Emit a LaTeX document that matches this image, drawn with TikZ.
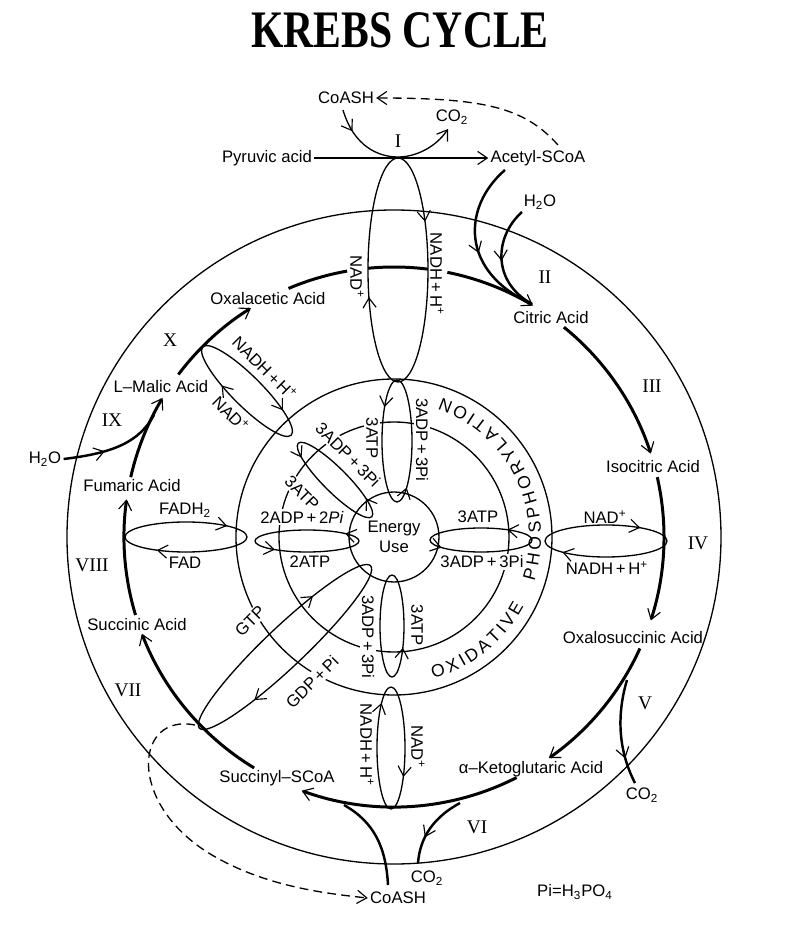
\documentclass[tikz,border=0pt]{standalone}
\usepackage{fontspec}
\setmainfont{Liberation Sans}
\newfontfamily\romfont{Liberation Serif}
\usetikzlibrary{arrows.meta, decorations.markings, decorations.text}

\begin{document}
\begin{tikzpicture}[
    x=0.02cm, y=0.02cm, line width=0.75pt,
    >={Straight Barb[length=5.5pt, width=7.5pt, line width=0.65pt]},
    lbl/.style    ={font=\fontsize{9.5}{11}\selectfont, inner sep=1pt},
    gaplbl/.style ={lbl, fill=white},
    roman/.style  ={font=\romfont\fontsize{11}{12}\selectfont},
    cyc/.style    ={line width=1.7pt},
    feed/.style   ={line width=1.4pt},
    midtip/.style ={postaction={decorate, decoration={markings,
                       mark=at position #1 with {\arrow{>}}}}},
    fw/.style 2 args={postaction={decorate, decoration={markings,
                       mark=at position #1 with {\arrow{>}},
                       mark=at position #2 with {\arrow{>}}}}},
    bw/.style 2 args={postaction={decorate, decoration={markings,
                       mark=at position #1 with {\arrowreversed{>}},
                       mark=at position #2 with {\arrowreversed{>}}}}},
    phos/.style   ={decorate, decoration={text along path, text align={fit to path},
                       text={|\fontsize{10}{12}\selectfont|#1}}}
  ]
  \useasboundingbox (-394,-393) rectangle (391,537);
  \node[font=\romfont\bfseries\fontsize{30}{32}\selectfont] (title) at (6,507)
       {\scalebox{0.79}[1]{KREBS CYCLE}};

  % rings
  \draw (0,0) circle [radius=327];
  \draw (0,0) circle [radius=158];
  \draw (0,0) circle [radius=115];
  \node[lbl, circle, draw, minimum size=1.8cm, align=center] (energy) at (0,0) {Energy\\Use};
  \path[phos=OXIDATIVE] (-74.5:147) arc [start angle=-74.5, end angle=-28, radius=147];
  \path[phos=PHOSPHORYLATION] (-17.5:147) arc [start angle=-17.5, end angle=71, radius=147];

  % compounds
  \node[lbl] (pyr)    at (-127,379) {Pyruvic acid};
  \node[lbl] (acetyl) at (144,379)  {Acetyl-SCoA};
  \node[lbl] (coa)    at (-48,439)  {CoASH};
  \node[lbl] (co2a)   at (58,420)   {CO\textsubscript{2}};
  \node[lbl] (watera) at (146,335)  {H\textsubscript{2}O};
  \node[lbl] (oxal)   at (-126,238) {Oxalacetic Acid};
  \node[lbl] (citric) at (157,219)  {Citric Acid};
  \node[lbl] (isocit) at (259,70)   {Isocitric Acid};
  \node[lbl] (oxsucc) at (239,-101) {Oxalosuccinic Acid};
  \node[lbl] (co2b)   at (248,-258) {CO\textsubscript{2}};
  \node[lbl] (keto)   at (137,-232) {α--Ketoglutaric Acid};
  \node[lbl] (co2c)   at (33,-341)  {CO\textsubscript{2}};
  \node[lbl] (coab)   at (4,-361)   {CoASH};
  \node[lbl] (pieq)   at (181,-355) {Pi=H\textsubscript{3}PO\textsubscript{4}};
  \node[lbl] (succoa) at (-117,-241) {Succinyl--SCoA};
  \node[lbl] (succ)   at (-257,-88) {Succinic Acid};
  \node[lbl] (fum)    at (-262,51)  {Fumaric Acid};
  \node[lbl] (waterb) at (-349,78)  {H\textsubscript{2}O};
  \node[lbl] (malic)  at (-233,150) {L--Malic Acid};

  % steps
  \node[roman] (s1)  at (4,396)     {I};
  \node[roman] (s2)  at (151,260)   {II};
  \node[roman] (s3)  at (258,151)   {III};
  \node[roman] (s4)  at (304,-6)    {IV};
  \node[roman] (s5)  at (251,-166)  {V};
  \node[roman] (s6)  at (83,-290)   {VI};
  \node[roman] (s7)  at (-266,-153) {VII};
  \node[roman] (s8)  at (-302,-28)  {VIII};
  \node[roman] (s9)  at (-282,117)  {IX};
  \node[roman] (s10) at (-224,197)  {X};

  % carriers
  \node[lbl, rotate=-90] (nadt)  at (-37,260) {NAD\textsuperscript{+}};
  \node[lbl, rotate=-90] (nadht) at (43,263)  {NADH\,+\,H\textsuperscript{+}};
  \node[gaplbl, rotate=-90] (atpt)  at (-22,99) {3ATP};
  \node[gaplbl, rotate=-90] (adpt)  at (28,97)  {3ADP\,+\,3Pi};
  \node[lbl, rotate=-45] (nadhd) at (-129,169) {NADH\,+\,H\textsuperscript{+}};
  \node[lbl, rotate=-45] (nadd)  at (-163,123) {NAD\textsuperscript{+}};
  \node[gaplbl, rotate=-45] (adpd)  at (-46,82)  {3ADP\,+\,3Pi};
  \node[gaplbl, rotate=-45] (atpd)  at (-92,44)  {3ATP};
  \node[lbl] (fadh)  at (-209,27)  {FADH\textsubscript{2}};
  \node[lbl] (fad)   at (-209,-26) {FAD};
  \node[gaplbl] (adpl) at (-92,20)  {2ADP\,+\,2\textit{Pi}};
  \node[lbl] (atpl)  at (-84,-25)  {2ATP};
  \node[lbl] (atpr)  at (84,20)    {3ATP};
  \node[gaplbl] (adpr) at (88,-25)  {3ADP\,+\,3Pi};
  \node[lbl] (nadr)  at (211,20)   {NAD\textsuperscript{+}};
  \node[lbl] (nadhr) at (213,-31)  {NADH\,+\,H\textsuperscript{+}};
  \node[gaplbl, rotate=45] (gtp) at (-144,-84)  {GTP};
  \node[gaplbl, rotate=45] (gdp) at (-82,-145)  {GDP\,+\,Pi};
  \node[gaplbl, rotate=-90] (adpb) at (-26,-100) {3ADP\,+\,3Pi};
  \node[lbl, rotate=-90] (atpb)  at (23,-88)   {3ATP};
  \node[lbl, rotate=-90] (nadhb) at (-27,-208) {NADH\,+\,H\textsuperscript{+}};
  \node[lbl, rotate=-90] (nadb)  at (24,-210)  {NAD\textsuperscript{+}};

  % exchange loops
  \draw[bw={0.1}{0.556}] (4,267) ellipse [x radius=30, y radius=112];
  \draw[fw={0.37}{0.82}] (3,96) ellipse [x radius=15, y radius=61];
  \draw[midtip=0.9] (-2,-89) ellipse [x radius=12, y radius=51];
  \draw[bw={0.325}{0.888}] (-3,-211) ellipse [x radius=14, y radius=61];
  \draw[fw={0.128}{0.567}] (87,-3) ellipse [x radius=51, y radius=12];
  \draw[bw={0.119}{0.583}] (212,-4) ellipse [x radius=61, y radius=16];
  \draw[fw={0.075}{0.603}] (-87,-4) ellipse [x radius=52, y radius=11];
  \draw[bw={0.091}{0.638}] (-208,0) ellipse [x radius=61, y radius=15];
  \draw[bw={0.103}{0.668}, rotate around={-45:(-147,146)}] (-147,146) ellipse [x radius=62.5, y radius=15];
  \draw[fw={0.092}{0.57}, rotate around={-45:(-59,57)}] (-59,57) ellipse [x radius=52, y radius=12];
  \draw[bw={0.137}{0.63}, rotate around={43.5:(-109,-110)}] (-109,-110) ellipse [x radius=118, y radius=20];

  % the cycle
  \draw[cyc] (113:270) arc [start angle=113, end angle=100, radius=270];
  \draw[cyc] (95.5:270) arc [start angle=95.5, end angle=82.8, radius=270];
  \draw[cyc, ->] (78.6:270) arc [start angle=78.6, end angle=59, radius=270];
  \draw[cyc, ->] (51:270) arc [start angle=51, end angle=18, radius=270];
  \draw[cyc, ->] (12.8:270) arc [start angle=12.8, end angle=-18, radius=270];
  \draw[cyc, ->] (-24.4:270) arc [start angle=-24.4, end angle=-55, radius=270];
  \draw[cyc, ->] (-63:270) arc [start angle=-63, end angle=-110, radius=270];
  \draw[cyc, ->] (-121.2:270) arc [start angle=-121.2, end angle=-159, radius=270];
  \draw[cyc, ->] (-163.2:270) arc [start angle=-163.2, end angle=-188, radius=270];
  \draw[cyc, ->] (167.2:270) arc [start angle=167.2, end angle=149, radius=270];
  \draw[cyc, ->] (143:270) arc [start angle=143, end angle=122, radius=270];

  % inputs and outputs
  \draw[->, line width=0.9pt] (pyr) -- (acetyl);
  \draw[->, midtip=0.17] (-51,427) .. controls (-40,390) and (-15,380) .. (4,380)
       .. controls (22,380) and (42,390) .. (54,408);
  \draw[->, dashed, dash pattern=on 5pt off 3pt] (164,392) .. controls (130,430) and (90,439) .. (coa.east);
  \draw[feed, midtip=0.55] (111,367) .. controls (68,330) and (66,265) .. (138,233);
  \draw[feed, midtip=0.5] (128,325) .. controls (100,300) and (98,255) .. (138,233);
  \draw[feed, midtip=0.4] (waterb.east) .. controls (-280,84) and (-255,95) .. (-240,122);
  \draw[feed, midtip=0.75] (233,-143) .. controls (222,-180) and (225,-215) .. (241,-246);
  \draw[feed, midtip=0.65] (66,-266) .. controls (40,-280) and (26,-300) .. (24,-326);
  \draw[feed] (-6,-348) .. controls (-8,-310) and (-20,-285) .. (-50,-268);
  \draw[->, dashed, dash pattern=on 5pt off 3pt] (-199,-188) .. controls (-258,-176) and (-268,-263) .. (-187,-315)
       .. controls (-134,-348) and (-74,-356) .. (coab.west);
\end{tikzpicture}
\end{document}
